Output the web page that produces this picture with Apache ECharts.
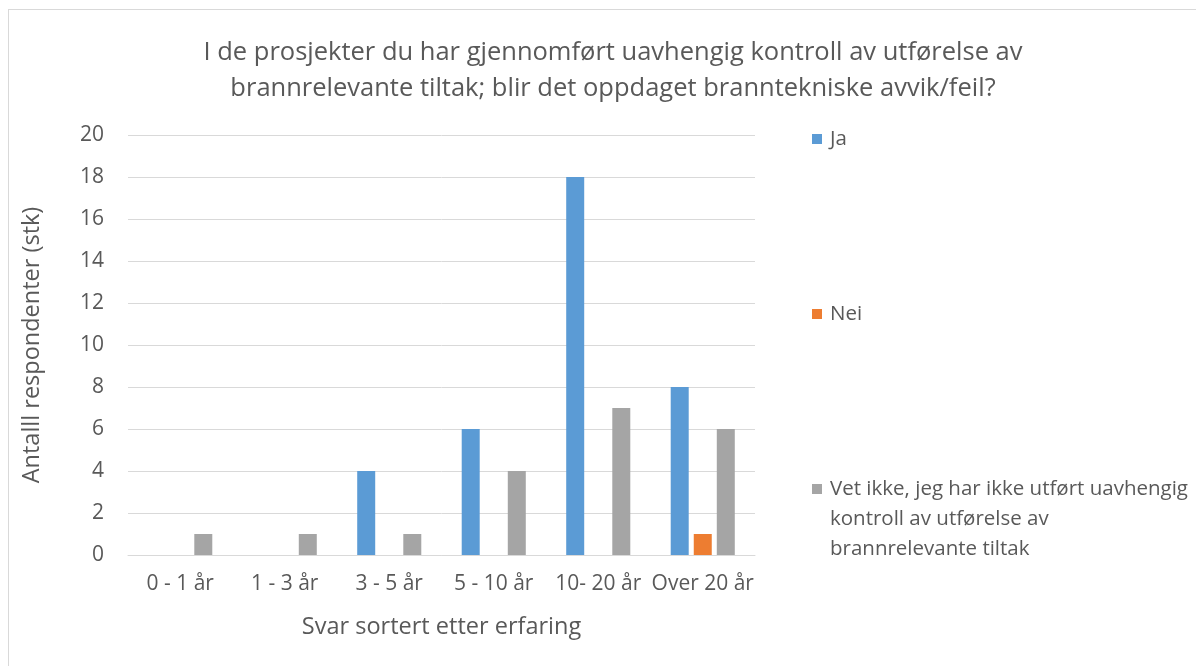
<!DOCTYPE html>
<html>
<head>
<meta charset="utf-8">
<script src="https://cdn.jsdelivr.net/npm/echarts@6/dist/echarts.min.js"></script>
<style>
html,body{margin:0;padding:0;background:#fff;}
#frame{position:absolute;left:8px;top:9px;width:1300px;height:700px;border:1px solid #d9d9d9;}
#chart{position:absolute;left:0;top:0;width:1196px;height:666px;}
</style>
</head>
<body>
<div id="frame"></div>
<div id="chart"></div>
<script>
const categories = ['0 - 1 år', '1 - 3 år', '3 - 5 år', '5 - 10 år', '10- 20 år', 'Over 20 år'];
const seriesNames = ['Ja', 'Nei', 'Vet ikke, jeg har ikke utført uavhengig kontroll av utførelse av brannrelevante tiltak'];
const jaValues = [0, 0, 4, 6, 18, 8];
const neiValues = [0, 0, 0, 0, 0, 1];
const vetIkkeValues = [1, 1, 1, 4, 7, 6];
const yTicks = [0, 2, 4, 6, 8, 10, 12, 14, 16, 18, 20];
const legendLines = ['Vet ikke, jeg har ikke utført uavhengig', 'kontroll av utførelse av', 'brannrelevante tiltak'];

const FONT = 'Open Sans';
const TXT = '#595959';
const colors = ['#5b9bd5', '#ed7d31', '#a5a5a5'];
const legendTops = [125, 300, 475];
const LH = 30;

const chart = echarts.init(document.getElementById('chart'));
chart.setOption({
  animation: false,
  textStyle: {fontFamily: FONT},
  title: {
    text: 'I de prosjekter du har gjennomført uavhengig kontroll av utførelse av\nbrannrelevante tiltak; blir det oppdaget branntekniske avvik/feil?',
    left: 608, top: 30, textAlign: 'center',
    textStyle: {fontFamily: FONT, fontSize: 25.5, fontWeight: 'normal', color: TXT, lineHeight: 36}
  },
  legend: seriesNames.map((n, i) => ({
    data: [n], orient: 'vertical', left: 812, top: legendTops[i], padding: 0,
    itemWidth: 10, itemHeight: 10, itemGap: 0, icon: 'rect',
    formatter: (name) => i === 2 ? legendLines[0] : name,
    textStyle: {fontFamily: FONT, fontSize: 20.5, color: TXT, lineHeight: 28, padding: [0,0,0,3]},
    selectedMode: false
  })),
  graphic: legendLines.slice(1).map((t, k) => ({
    type: 'text', left: 830, top: 489 + LH * (k + 1) - 14,
    style: {text: t, font: '20.5px "Open Sans"', fill: TXT, lineHeight: 28}
  })),
  grid: {left: 128, right: 441, top: 135, bottom: 111, containLabel: false},
  xAxis: {
    type: 'category', data: categories,
    name: 'Svar sortert etter erfaring', nameLocation: 'middle', nameGap: 60,
    nameTextStyle: {fontFamily: FONT, fontSize: 23.5, color: TXT},
    axisLine: {lineStyle: {color: '#d9d9d9'}},
    axisTick: {show: false},
    axisLabel: {interval: 0, fontFamily: FONT, fontSize: 21, color: TXT, margin: 19}
  },
  yAxis: {
    type: 'value', min: 0, max: 20, interval: 2,
    name: 'Antalll respondenter (stk)', nameLocation: 'middle', nameGap: 84, nameRotate: 90,
    nameTextStyle: {fontFamily: FONT, fontSize: 23.5, color: TXT},
    axisLine: {show: false}, axisTick: {show: false},
    splitLine: {lineStyle: {color: '#d9d9d9'}},
    axisLabel: {fontFamily: FONT, fontSize: 21, color: TXT, margin: 24,
      formatter: (v) => yTicks.includes(v) ? String(v) : ''}
  },
  series: [jaValues, neiValues, vetIkkeValues].map((d, i) => ({
    name: seriesNames[i], type: 'bar', data: d,
    barWidth: 18, barGap: '28%',
    itemStyle: {color: colors[i]}
  }))
});
</script>
</body>
</html>
